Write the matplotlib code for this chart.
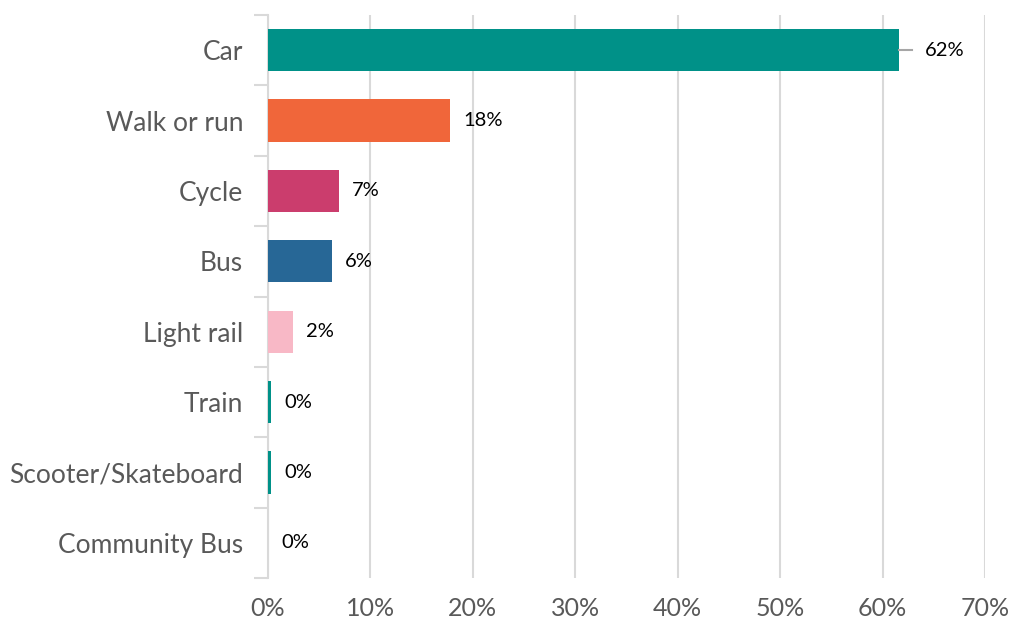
"""Horizontal bar chart of travel mode shares."""
import matplotlib

matplotlib.use("Agg")
import matplotlib.pyplot as plt
import numpy as np

modes = ["Car", "Walk or run", "Cycle", "Bus", "Light rail", "Train",
         "Scooter/Skateboard", "Community Bus"]
shares = [61.6, 17.8, 6.9, 6.2, 2.4, 0.3, 0.3, 0.0]
share_labels = ["62%", "18%", "7%", "6%", "2%", "0%", "0%", "0%"]
colors = ["#009188", "#F0663A", "#CB3D6D", "#276796", "#F8B8C6",
          "#009188", "#009188", "#009188"]
xticks = [0, 10, 20, 30, 40, 50, 60, 70]

plt.rcParams["font.family"] = ["Lato", "DejaVu Sans"]

fig = plt.figure(figsize=(10.11, 6.27), dpi=100)
ax = fig.add_axes([268 / 1011, 1 - 578 / 627, (985 - 268) / 1011, (578 - 15) / 627])

y = np.arange(len(modes))
ax.barh(y, shares, height=0.6, color=colors, zorder=3)
ax.set_ylim(len(modes) - 0.5, -0.5)
ax.set_xlim(0, 70)

# data labels
for i, (v, lab) in enumerate(zip(shares, share_labels)):
    if i == 0:
        ax.plot([v, v + 1.3], [i, i], color="#A6A6A6", lw=1.5, zorder=3)
        ax.text(v + 2.5, i, lab, va="center", ha="left", fontsize=14.5, color="black")
    else:
        ax.text(v + 1.3, i, lab, va="center", ha="left", fontsize=14.5, color="black")

ax.set_xticks(xticks)
ax.set_xticklabels([f"{t}%" for t in xticks], fontsize=18, color="#595959")
ax.set_yticks(y)
ax.set_yticklabels(modes, fontsize=19, color="#595959")
ax.tick_params(axis="y", length=0, pad=18)
ax.tick_params(axis="x", length=0, pad=14)

# category boundary ticks on the left spine
ax.set_yticks(np.arange(len(modes) + 1) - 0.5, minor=True)
ax.tick_params(axis="y", which="minor", length=10, color="#D9D9D9", width=1.5)

ax.grid(axis="x", color="#D9D9D9", lw=1.5, zorder=0)
for s in ["top", "right", "bottom"]:
    ax.spines[s].set_visible(False)
ax.spines["left"].set_color("#D9D9D9")
ax.spines["left"].set_linewidth(1.5)

fig.savefig("out.png", dpi=100)
